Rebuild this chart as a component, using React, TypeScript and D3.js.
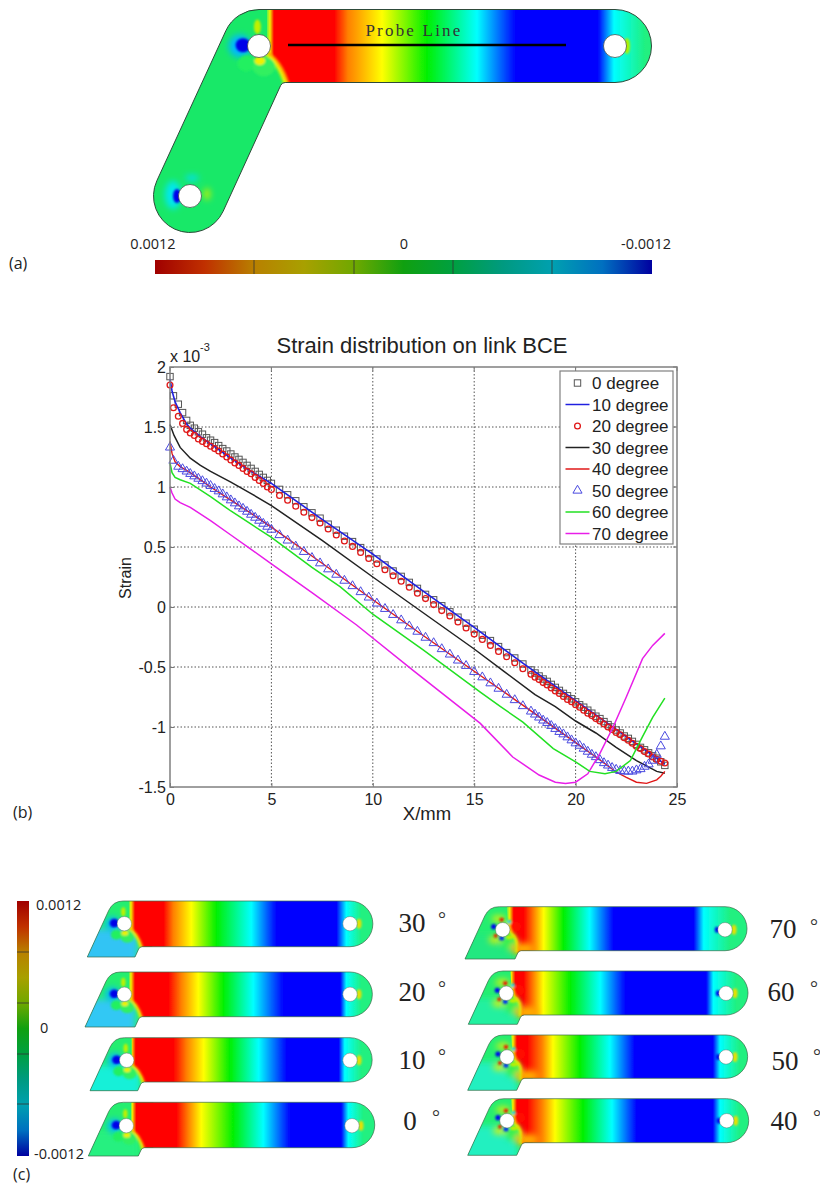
import React, { useRef, useEffect } from 'react';
import * as d3 from 'd3';

// strain is in units of 10^-3, x in mm
const markerX = [
  0, 0.17, 0.41, 0.62, 0.82, 1,
  1.2, 1.4, 1.6, 1.8, 2, 2.2, 2.4, 2.6, 2.8, 3, 3.2, 3.4, 3.6, 3.8, 4, 4.2, 4.4, 4.6, 4.8, 5,
  5.4, 5.8, 6.2, 6.6, 7, 7.4, 7.8, 8.2, 8.6, 9, 9.4, 9.8, 10.2, 10.6, 11, 11.4, 11.8, 12.2, 12.6, 13,
  13.4, 13.8, 14.2, 14.6, 15, 15.4, 15.8, 16.2, 16.6, 17, 17.4, 17.8,
  18, 18.2, 18.4, 18.6, 18.8, 19, 19.2, 19.4, 19.6, 19.8, 20, 20.2, 20.4, 20.6, 20.8, 21, 21.2, 21.4,
  21.6, 21.8, 22, 22.2, 22.4, 22.6, 22.8, 23, 23.2, 23.4, 23.6, 23.8, 24, 24.2, 24.4,
];
const degree0 = [
  1.92, 1.76, 1.69, 1.62, 1.555, 1.514,
  1.49, 1.46, 1.44, 1.41, 1.39, 1.37, 1.345, 1.32, 1.3, 1.275, 1.25, 1.23, 1.205, 1.18, 1.155, 1.13, 1.105, 1.08, 1.055, 1.03,
  0.98, 0.935, 0.885, 0.835, 0.785, 0.74, 0.69, 0.64, 0.59, 0.545, 0.495, 0.445, 0.4, 0.35, 0.3, 0.255, 0.205, 0.155, 0.105, 0.06,
  0.01, -0.04, -0.085, -0.135, -0.185, -0.235, -0.28, -0.33, -0.38, -0.425, -0.475, -0.525,
  -0.55, -0.575, -0.6, -0.62, -0.645, -0.67, -0.695, -0.72, -0.74, -0.765, -0.79, -0.815, -0.835, -0.86, -0.885, -0.91, -0.93, -0.955,
  -0.98, -1, -1.025, -1.05, -1.075, -1.095, -1.12, -1.145, -1.17, -1.19, -1.215, -1.24, -1.26, -1.29, -1.32,
];
const degree20 = [
  1.85, 1.66, 1.59, 1.53, 1.48, 1.45,
  1.43, 1.4, 1.38, 1.36, 1.34, 1.32, 1.3, 1.275, 1.25, 1.225, 1.2, 1.18, 1.155, 1.13, 1.11, 1.08, 1.055, 1.03, 1, 0.98,
  0.93, 0.89, 0.84, 0.79, 0.745, 0.7, 0.65, 0.6, 0.55, 0.505, 0.455, 0.405, 0.36, 0.31, 0.26, 0.215, 0.165, 0.115, 0.07, 0.02,
  -0.03, -0.075, -0.125, -0.175, -0.225, -0.27, -0.32, -0.37, -0.415, -0.465, -0.515, -0.56,
  -0.585, -0.605, -0.63, -0.65, -0.675, -0.7, -0.72, -0.745, -0.77, -0.79, -0.815, -0.835, -0.86, -0.885, -0.905, -0.93, -0.95, -0.975,
  -1, -1.02, -1.045, -1.065, -1.09, -1.11, -1.135, -1.16, -1.18, -1.205, -1.225, -1.25, -1.27, -1.285, -1.3,
];
const degree50 = [
  1.33, 1.22, 1.17, 1.15, 1.13, 1.11,
  1.09, 1.07, 1.05, 1.03, 1.01, 0.985, 0.965, 0.94, 0.915, 0.89, 0.865, 0.84, 0.82, 0.795, 0.77, 0.745, 0.72, 0.695, 0.67, 0.645,
  0.6, 0.555, 0.505, 0.46, 0.41, 0.365, 0.315, 0.27, 0.22, 0.175, 0.125, 0.08, 0.03, -0.015, -0.065, -0.11, -0.16, -0.205, -0.255, -0.3,
  -0.35, -0.395, -0.445, -0.49, -0.54, -0.585, -0.635, -0.68, -0.73, -0.775, -0.825, -0.87,
  -0.895, -0.92, -0.945, -0.965, -0.99, -1.015, -1.04, -1.06, -1.085, -1.11, -1.135, -1.155, -1.18, -1.205, -1.23, -1.25, -1.275, -1.3,
  -1.32, -1.34, -1.355, -1.365, -1.37, -1.37, -1.37, -1.36, -1.35, -1.33, -1.31, -1.28, -1.23, -1.16, -1.08,
];

const degree10X = [0, 0.1, 0.25, 0.5, 0.8, 1, 1.5, 2, 3, 4, 5, 7.5, 10, 12.5, 15, 17.5, 20, 22, 23, 24, 24.4];
const degree10 = [1.9, 1.8, 1.71, 1.62, 1.53, 1.49, 1.42, 1.36, 1.24, 1.13, 1.03, 0.73, 0.44, 0.13, -0.17, -0.48, -0.78, -1.02, -1.14, -1.26, -1.31];
const degree30X = [0, 0.2, 0.5, 1, 1.5, 2, 3, 4, 5, 7.5, 10, 12.5, 15, 16.5, 18, 19, 20, 21, 22, 23, 24, 24.4];
const degree30 = [1.52, 1.43, 1.33, 1.24, 1.18, 1.13, 1.04, 0.945, 0.845, 0.555, 0.25, -0.05, -0.35, -0.54, -0.73, -0.83, -0.95, -1.05, -1.17, -1.28, -1.37, -1.385];
const degree40X = [0, 0.1, 0.25, 0.5, 1, 2, 3, 4, 5, 7.5, 10, 12.5, 15, 17.5, 20, 21, 22, 22.5, 23, 23.5, 24, 24.2, 24.4];
const degree40 = [1.38, 1.28, 1.21, 1.17, 1.12, 1, 0.89, 0.78, 0.665, 0.365, 0.06, -0.24, -0.535, -0.83, -1.13, -1.25, -1.375, -1.42, -1.46, -1.47, -1.44, -1.41, -1.37];
const degree60X = [0, 0.1, 0.25, 0.5, 1, 2, 3, 4, 5, 7, 8.4, 10, 12.5, 15.3, 16.3, 17.4, 18.9, 20, 20.7, 21.45, 22, 22.7, 23.3, 23.8, 24.4];
const degree60 = [1.2, 1.12, 1.08, 1.06, 1.03, 0.92, 0.8, 0.69, 0.58, 0.33, 0.167, -0.06, -0.36, -0.71, -0.83, -0.96, -1.18, -1.29, -1.37, -1.39, -1.37, -1.28, -1.08, -0.92, -0.76];
const degree70X = [0, 0.1, 0.25, 0.5, 1, 2, 3, 4, 5, 7, 9.2, 12, 15.3, 16.9, 18.2, 19, 19.5, 20, 20.6, 21.2, 21.85, 22.5, 23.3, 23.8, 24.4];
const degree70 = [1, 0.95, 0.9, 0.87, 0.83, 0.72, 0.6, 0.48, 0.36, 0.12, -0.15, -0.53, -0.97, -1.25, -1.4, -1.46, -1.47, -1.46, -1.39, -1.22, -1, -0.75, -0.43, -0.32, -0.22];

const xTicks = [0, 5, 10, 15, 20, 25];
const yTicks = [2, 1.5, 1, 0.5, 0, -0.5, -1, -1.5];
const legendLabels = ['0 degree', '10 degree', '20 degree', '30 degree', '40 degree', '50 degree', '60 degree', '70 degree'];

// contour band edges, px right of the left hole, in the order of bandColors
const bandColors = ['#ff0000', '#ff0000', '#ff8000', '#ffff00', '#00f000', '#00ffff', '#0000ff', '#0000ff', '#00ffff', '#20f080'];
const bandsA = [15, 75, 89, 123, 168, 218, 257, 339, 355, 386];
const contourRows = [
  { label: '30', bands: [10.7, 39, 49, 67, 92, 127, 152, 212, 222, 237], hole: [124.3, 923.7], rightX: 350, top: 901, bottom: 946.7, end: 372.7, stub: [87.3, 135, 957], stubColor: '#30c4f4', text: [412, 923], deg: [442, 915], high: false },
  { label: '20', bands: [10.7, 44, 57, 74, 99, 129, 159, 216, 222, 237], hole: [124.3, 994.3], rightX: 350, top: 972, bottom: 1016.7, end: 372.7, stub: [85, 135, 1027], stubColor: '#30c8f4', text: [412, 992], deg: [442, 984], high: false },
  { label: '10', bands: [9, 47, 60, 77, 103, 132, 160, 212, 218, 235], hole: [126.7, 1060.3], rightX: 350, top: 1037.7, bottom: 1082, end: 372.7, stub: [90, 137.7, 1090.7], stubColor: '#18f0d8', text: [412, 1060], deg: [442, 1052], high: false },
  { label: '0', bands: [10, 50, 62, 75, 107, 137, 164, 215, 222, 237], hole: [126.3, 1125.7], rightX: 352, top: 1102.3, bottom: 1147.7, end: 374.7, stub: [88.3, 138.3, 1156], stubColor: '#28f080', text: [410, 1121], deg: [436, 1113], high: false },
  { label: '70', bands: [11, 21, 31, 41, 61, 87, 111, 191, 201, 227], hole: [502.7, 929.7], rightX: 725, top: 906.7, bottom: 950.7, end: 747.7, stub: [465, 515, 959], stubColor: '#20e880', text: [783, 929], deg: [814, 922], high: true },
  { label: '60', bands: [9, 17, 27, 37, 64, 94, 119, 200, 207, 230], hole: [506.3, 993.3], rightX: 726, top: 971, bottom: 1015, end: 748.3, stub: [468.3, 517.3, 1024.3], stubColor: '#20f0a0', text: [781, 992], deg: [814, 984], high: true },
  { label: '50', bands: [10, 20, 35, 46, 73, 103, 128, 206, 213, 233], hole: [507, 1057], rightX: 726, top: 1035, bottom: 1078.3, end: 748.3, stub: [467.7, 516.7, 1090.3], stubColor: '#20f0c0', text: [785, 1061], deg: [817, 1052], high: true },
  { label: '40', bands: [10, 20, 35, 48, 76, 105, 130, 206, 213, 233], hole: [507, 1120.7], rightX: 726.7, top: 1098.7, bottom: 1142.7, end: 749, stub: [467.7, 516.7, 1155.3], stubColor: '#20f0c0', text: [784, 1121], deg: [817, 1113], high: true },
];

// coloured lobes around the hole: dx, dy, rx, ry, colour
type Lobe = [number, number, number, number, string];
const lowHalo: Lobe[] = [
  [-12, 0, 7, 7, '#00b8ff'],
];
const lowLobes: Lobe[] = [
  [-10, -0.5, 4.6, 4.4, '#0000e8'],
  [-1, -12, 2.2, 4.5, '#c0f000'],
  [-8, 11, 5.5, 5, '#20f060'],
  [3, 13, 7, 6, '#30f060'],
  [0.5, 9.2, 3.4, 2.6, '#f0f000'],
];
const highHalo: Lobe[] = [
  [-4, -11, 7, 3, '#f0f000'],
  [-8, 10, 6, 3.5, '#e8f000'],
  [6, 12, 8, 8, '#30f050'],
  [20, 19, 12, 6, '#ffb000'],
];
const highLobes: Lobe[] = [
  [-9, -3, 2.6, 2.6, '#0000f0'],
  [-1, 8.5, 2.6, 2.2, '#0030f0'],
  [-1, -10, 2.2, 2, '#f01000'],
  [-7, 6, 2, 2, '#e82000'],
  [6.5, -8, 2.2, 2, '#10d0e0'],
  [13, -3, 5, 5, '#ff1000'],
  [7, 7.5, 4, 2, '#c0f000'],
];

const slope = 0.46; // run over rise of the slanted lower arm

const stubPath = (row: any) => {
  const [holeX] = row.hole;
  const [left, right, y] = row.stub;
  const radius = (row.bottom - row.top) / 2;
  const p = d3.path();
  p.moveTo(left, y);
  p.arcTo(left + (y - row.top) * slope, row.top, holeX + 10, row.top, 16);
  p.lineTo(row.rightX, row.top);
  p.arc(row.rightX, row.top + radius, radius, -Math.PI / 2, Math.PI / 2);
  p.arcTo(right + (y - row.bottom) * slope, row.bottom, right, y, 4);
  p.lineTo(right, y);
  p.closePath();
  return p.toString();
};

const fullLinkPath = () => {
  const r = 36.5;
  const theta = Math.atan2(0.418, 0.908);
  const p = d3.path();
  p.moveTo(259, 9.5);
  p.lineTo(615, 9.5);
  p.arc(615, 46, r, -Math.PI / 2, Math.PI / 2);
  p.arcTo(282, 82.5, 190 + r * Math.cos(theta), 196 + r * Math.sin(theta), 5);
  p.lineTo(190 + r * Math.cos(theta), 196 + r * Math.sin(theta));
  p.arc(190, 196, r, theta, theta + Math.PI);
  p.lineTo(259 - r * Math.cos(theta), 46 - r * Math.sin(theta));
  p.arc(259, 46, r, theta + Math.PI, Math.PI * 1.5);
  return p.toString();
};

// the edge between the lobes at the hole and the long gradient
const seamPath = (hx: number, hy: number, s: number, high: boolean) => {
  const p = d3.path();
  if (high) {
    p.moveTo(hx + 5 * s, hy - 9 * s);
    p.bezierCurveTo(hx + 8 * s, hy - 5 * s, hx + 7 * s, hy + 1 * s, hx + 9 * s, hy + 3 * s);
    p.bezierCurveTo(hx + 14 * s, hy + 6 * s, hx + 16 * s, hy + 12 * s, hx + 15 * s, hy + 22 * s);
  } else {
    p.moveTo(hx + 5.5 * s, hy + 5 * s);
    p.bezierCurveTo(hx + 10 * s, hy + 7 * s, hx + 15 * s, hy + 14 * s, hx + 18 * s, hy + 24 * s);
  }
  return p.toString();
};

const regionPath = (hx: number, hy: number, s: number, high: boolean, end: number) => {
  const startX = high ? hx + 3 * s : hx + 5 * s;
  const p = d3.path();
  p.moveTo(startX, hy - 40 * s);
  if (high) {
    p.lineTo(hx + 5 * s, hy - 9 * s);
    p.bezierCurveTo(hx + 8 * s, hy - 5 * s, hx + 7 * s, hy + 1 * s, hx + 9 * s, hy + 3 * s);
    p.bezierCurveTo(hx + 14 * s, hy + 6 * s, hx + 16 * s, hy + 12 * s, hx + 15 * s, hy + 22 * s);
    p.lineTo(hx + 15 * s, hy + 40 * s);
  } else {
    p.lineTo(hx + 5 * s, hy + 5 * s);
    p.bezierCurveTo(hx + 10 * s, hy + 7 * s, hx + 15 * s, hy + 14 * s, hx + 18 * s, hy + 24 * s);
    p.lineTo(hx + 18 * s, hy + 40 * s);
  }
  p.lineTo(end, hy + 40 * s);
  p.lineTo(end, hy - 40 * s);
  p.closePath();
  return p.toString();
};

const Gradient = ({ id, x0, bands, base }: { id: string; x0: number; bands: number[]; base: string }) => {
  const start = x0 + bands[0] - 8;
  const stop = x0 + bands[bands.length - 1];
  const offset = d3.scaleLinear().domain([start, stop]).range([0, 1]);
  return (
    <linearGradient id={id} gradientUnits="userSpaceOnUse" x1={start} x2={stop} y1={0} y2={0}>
      <stop offset={0} stopColor={base} />
      <stop offset={offset(start + 4)} stopColor="#f0f000" />
      {bands.map((b, i) => <stop key={i} offset={offset(x0 + b)} stopColor={bandColors[i]} />)}
    </linearGradient>
  );
};

const HoleLobes = ({ hx, hy, s, high }: { hx: number; hy: number; s: number; high: boolean }) => {
  const seam = seamPath(hx, hy, s, high);
  const halo = high ? highHalo : lowHalo;
  const lobes = high ? highLobes : lowLobes;
  const draw = (list: Lobe[]) => list.map((l, i) => (
    <ellipse key={i} cx={hx + l[0] * s} cy={hy + l[1] * s} rx={l[2] * s} ry={l[3] * s} fill={l[4]} />
  ));
  return (
    <g>
      <g filter="url(#softer)">{draw(halo)}</g>
      <g filter="url(#soft)">
        <path d={seam} fill="none" stroke="#ff9000" strokeWidth={2.4 * s} />
        <path d={seam} fill="none" stroke="#f8f000" strokeWidth={1.6 * s} transform={`translate(${-1.2 * s},${0.3 * s})`} />
        <path d={seam} fill="none" stroke="#90f020" strokeWidth={1.2 * s} transform={`translate(${-2.2 * s},${0.6 * s})`} />
        {draw(lobes)}
      </g>
    </g>
  );
};

const ContourRow = ({ row, index }: { row: any; index: number }) => {
  const [hx, hy] = row.hole;
  const d = stubPath(row);
  const clip = `clip-row-${index}`;
  return (
    <g>
      <clipPath id={clip}><path d={d} /></clipPath>
      <Gradient id={`band-row-${index}`} x0={hx} bands={row.bands} base="#28f070" />
      <g clipPath={`url(#${clip})`}>
        <rect x={row.stub[0] - 5} y={row.top} width={70} height={row.stub[2] - row.top} fill="#24ee70" />
        <g filter="url(#softer)">
          <rect x={row.stub[0] - 12} y={hy + 5} width={62} height={40} fill={row.stubColor} />
        </g>
        <g filter="url(#faint)">
          <path d={regionPath(hx, hy, 1, row.high, row.end + 5)} fill={`url(#band-row-${index})`} />
        </g>
        <HoleLobes hx={hx} hy={hy} s={1} high={row.high} />
        <g filter="url(#soft)">
          <ellipse cx={row.rightX + 9} cy={hy} rx={2.5} ry={5} fill="#e8e000" />
          {row.high && <ellipse cx={row.rightX - 8} cy={hy} rx={2.2} ry={3} fill="#0000f0" />}
        </g>
      </g>
      <path d={d} fill="none" stroke="#3a6a4a" strokeWidth={0.7} />
      <circle cx={hx} cy={hy} r={7.2} fill="#fff" stroke="#555" strokeWidth={0.4} />
      <circle cx={row.rightX} cy={hy} r={7.2} fill="#fff" stroke="#555" strokeWidth={0.4} />
      <text x={row.text[0]} y={row.text[1] + 9} textAnchor="middle" fontFamily="Liberation Serif" fontSize={27} fill="#222">{row.label}</text>
      <text x={row.deg[0]} y={row.deg[1] + 11} textAnchor="middle" fontFamily="Liberation Serif" fontSize={20} fill="#333">°</text>
    </g>
  );
};

const PanelA = () => {
  const d = fullLinkPath();
  const s = 1.6;
  return (
    <g>
      <clipPath id="clip-a"><path d={d} /></clipPath>
      <Gradient id="band-a" x0={259} bands={bandsA} base="#30f060" />
      <g clipPath="url(#clip-a)">
        <rect x={150} y={0} width={180} height={240} fill="#18e868" />
        <g filter="url(#faint)">
          <path d={regionPath(259, 46, s, false, 656)} fill="url(#band-a)" />
        </g>
        <HoleLobes hx={259} hy={46} s={s} high={false} />
        <g filter="url(#softer)">
          <ellipse cx={173} cy={195} rx={8} ry={14} fill="#00e8f0" />
          <ellipse cx={192} cy={178} rx={7} ry={3} fill="#00e0f0" />
          <ellipse cx={207} cy={194} rx={3} ry={6} fill="#c8f000" />
        </g>
        <g filter="url(#soft)">
          <ellipse cx={177} cy={196} rx={4} ry={7} fill="#0000e8" />
          <ellipse cx={627} cy={46} rx={3} ry={8} fill="#b0f000" />
        </g>
      </g>
      <path d={d} fill="none" stroke="#2e4a3a" strokeWidth={1} />
      <circle cx={259} cy={46} r={11.5} fill="#fff" stroke="#222" strokeWidth={0.6} />
      <circle cx={615} cy={46} r={11.5} fill="#fff" stroke="#222" strokeWidth={0.6} />
      <circle cx={190} cy={196} r={11.5} fill="#fff" stroke="#222" strokeWidth={0.6} />
      <line x1={288} x2={566} y1={45} y2={45} stroke="#000" strokeWidth={2.5} />
      <text x={414} y={36} textAnchor="middle" fontFamily="Liberation Serif" fontSize={17} letterSpacing={2.2} fill="#333">Probe Line</text>
    </g>
  );
};

const darkStops = ['#a00000', '#c03000', '#b88000', '#a8a000', '#70a800', '#10a010', '#00a040', '#009a80', '#00a0b0', '#0070c0', '#0000a0'];

const Chart = () => {
  const ref = useRef<SVGGElement>(null);

  useEffect(() => {
    const left = 170, right = 677, top = 367, bottom = 787;
    const x = d3.scaleLinear().domain([0, 25]).range([left, right]);
    const y = d3.scaleLinear().domain([-1.5, 2]).range([bottom, top]);
    const g = d3.select(ref.current);
    g.selectAll('*').remove();

    const grid = g.append('g').attr('stroke', '#555').attr('stroke-width', 1).attr('stroke-dasharray', '1.5,2');
    xTicks.slice(1, -1).forEach(t => {
      grid.append('line').attr('x1', x(t)).attr('x2', x(t)).attr('y1', top).attr('y2', bottom);
    });
    yTicks.slice(1, -1).forEach(t => {
      grid.append('line').attr('x1', left).attr('x2', right).attr('y1', y(t)).attr('y2', y(t));
    });

    const line = d3.line<[number, number]>().x(d => x(d[0])).y(d => y(d[1]));
    const lineSeries: [number[], number[], string, number][] = [
      [degree70X, degree70, '#e81ee8', 1.5],
      [degree60X, degree60, '#22e022', 1.5],
    ];

    // squares first, the blue line over them
    const marks = g.append('g').attr('fill', 'none');
    markerX.forEach((v, i) => {
      marks.append('rect').attr('x', x(v) - 3.2).attr('y', y(degree0[i]) - 3.2).attr('width', 6.4).attr('height', 6.4)
        .attr('stroke', '#555').attr('stroke-width', 1);
    });
    marks.append('path').attr('d', line(degree10X.map((v, i) => [v, degree10[i]]))).attr('stroke', '#2020e0').attr('stroke-width', 1.6);
    markerX.forEach((v, i) => {
      marks.append('circle').attr('cx', x(v)).attr('cy', y(degree20[i])).attr('r', 2.9)
        .attr('stroke', '#e01818').attr('stroke-width', 1.3);
    });
    marks.append('path').attr('d', line(degree30X.map((v, i) => [v, degree30[i]]))).attr('stroke', '#222').attr('stroke-width', 1.5);
    marks.append('path').attr('d', line(degree40X.map((v, i) => [v, degree40[i]]))).attr('stroke', '#e01818').attr('stroke-width', 1.4);
    const triangle = d3.symbol().type(d3.symbolTriangle).size(36);
    markerX.forEach((v, i) => {
      marks.append('path').attr('d', triangle()).attr('transform', `translate(${x(v)},${y(degree50[i])})`)
        .attr('stroke', '#4a4ae0').attr('stroke-width', 1);
    });
    lineSeries.forEach(([xs, ys, color, width]) => {
      marks.append('path').attr('d', line(xs.map((v, i) => [v, ys[i]]))).attr('stroke', color).attr('stroke-width', width);
    });

    const axes = g.append('g').attr('font-family', 'Liberation Sans');
    const bottomAxis = axes.append('g').attr('transform', `translate(0,${bottom})`)
      .call(d3.axisBottom(x).tickValues(xTicks).tickSize(-4).tickPadding(6.6).tickFormat(d => String(d)));
    const leftAxis = axes.append('g').attr('transform', `translate(${left},0)`)
      .call(d3.axisLeft(y).tickValues(yTicks).tickSize(-4).tickPadding(4).tickFormat(d => String(d)));
    [bottomAxis, leftAxis].forEach(a => {
      a.attr('font-size', 16).attr('font-family', 'Liberation Sans');
      a.select('.domain').remove();
      a.selectAll('line').attr('stroke', '#777');
      a.selectAll('text').attr('fill', '#222');
    });
    const topTicks = axes.append('g').attr('stroke', '#777');
    xTicks.forEach(t => topTicks.append('line').attr('x1', x(t)).attr('x2', x(t)).attr('y1', top).attr('y2', top + 4));
    yTicks.forEach(t => topTicks.append('line').attr('x1', right - 4).attr('x2', right).attr('y1', y(t)).attr('y2', y(t)));
    axes.append('rect').attr('x', left).attr('y', top).attr('width', right - left).attr('height', bottom - top)
      .attr('fill', 'none').attr('stroke', '#808080').attr('stroke-width', 1.5);

    // legend
    const lx = 560, ly = 371, rowH = 21.5;
    const legend = g.append('g').attr('font-family', 'Liberation Sans').attr('font-size', 17);
    legend.append('rect').attr('x', lx).attr('y', ly).attr('width', 113).attr('height', 173)
      .attr('fill', '#fff').attr('stroke', '#808080').attr('stroke-width', 1.2);
    const legendColor = ['#555', '#2020e0', '#e01818', '#222', '#e01818', '#4a4ae0', '#22e022', '#e81ee8'];
    legendLabels.forEach((label, i) => {
      const cy = 383 + i * rowH;
      legend.append('text').attr('x', 592).attr('y', cy + 6).attr('fill', '#222').text(label);
      if (i === 0) {
        legend.append('rect').attr('x', 574.3).attr('y', cy - 3.2).attr('width', 6.4).attr('height', 6.4)
          .attr('fill', 'none').attr('stroke', legendColor[i]).attr('stroke-width', 1);
      } else if (i === 2) {
        legend.append('circle').attr('cx', 577.5).attr('cy', cy).attr('r', 2.9)
          .attr('fill', 'none').attr('stroke', legendColor[i]).attr('stroke-width', 1.3);
      } else if (i === 5) {
        legend.append('path').attr('d', triangle()).attr('transform', `translate(577.5,${cy})`)
          .attr('fill', 'none').attr('stroke', legendColor[i]).attr('stroke-width', 1);
      } else {
        legend.append('line').attr('x1', 565.5).attr('x2', 589.5).attr('y1', cy).attr('y2', cy)
          .attr('stroke', legendColor[i]).attr('stroke-width', 1.5);
      }
    });

    const labels = g.append('g').attr('font-family', 'Liberation Sans').attr('fill', '#222');
    labels.append('text').attr('x', 422).attr('y', 353).attr('text-anchor', 'middle').attr('font-size', 22).text('Strain distribution on link BCE');
    labels.append('text').attr('x', 427).attr('y', 820).attr('text-anchor', 'middle').attr('font-size', 18.5).text('X/mm');
    labels.append('text').attr('transform', 'translate(131,578) rotate(-90)').attr('text-anchor', 'middle').attr('font-size', 16).text('Strain');
    labels.append('text').attr('x', 170).attr('y', 362).attr('font-size', 16).text('x 10');
    labels.append('text').attr('x', 200).attr('y', 351).attr('font-size', 11).text('-3');
  }, []);

  return <g ref={ref} />;
};

export default function App() {
  const hSegments = [254, 354, 453, 552];
  const vSegments = [952, 1003, 1054, 1104];
  const labelFont = 'Open Sans';
  return (
    <svg width={820} height={1184} style={{ position: 'absolute', left: 0, top: 0, background: '#fff' }}>
      <defs>
        <filter id="faint" x="-5%" y="-5%" width="110%" height="110%">
          <feGaussianBlur stdDeviation={0.6} />
        </filter>
        <filter id="soft" x="-50%" y="-50%" width="200%" height="200%">
          <feGaussianBlur stdDeviation={1.1} />
        </filter>
        <filter id="softer" x="-50%" y="-50%" width="200%" height="200%">
          <feGaussianBlur stdDeviation={3} />
        </filter>
        <linearGradient id="bar-h" x1={0} x2={1} y1={0} y2={0}>
          {darkStops.map((c, i) => <stop key={i} offset={i / (darkStops.length - 1)} stopColor={c} />)}
        </linearGradient>
        <linearGradient id="bar-v" x1={0} x2={0} y1={0} y2={1}>
          {darkStops.map((c, i) => <stop key={i} offset={i / (darkStops.length - 1)} stopColor={c} />)}
        </linearGradient>
      </defs>

      <PanelA />
      <rect x={155} y={260} width={497} height={14} fill="url(#bar-h)" />
      {hSegments.map(v => <line key={v} x1={v} x2={v} y1={260} y2={274} stroke="#333" strokeWidth={0.8} />)}
      <g fontFamily={labelFont} fontSize={14.5} fill="#222">
        <text x={153} y={249} textAnchor="middle">0.0012</text>
        <text x={404} y={249} textAnchor="middle">0</text>
        <text x={646} y={249} textAnchor="middle">-0.0012</text>
        <text x={9} y={269} fontSize={16}>(a)</text>
        <text x={13} y={818} fontSize={16}>(b)</text>
        <text x={13} y={1180} fontSize={16}>(c)</text>
      </g>

      <Chart />

      <rect x={17} y={901} width={12} height={255} fill="url(#bar-v)" />
      {vSegments.map(v => <line key={v} x1={17} x2={29} y1={v} y2={v} stroke="#333" strokeWidth={0.8} />)}
      <g fontFamily={labelFont} fontSize={14.5} fill="#222">
        <text x={36} y={910}>0.0012</text>
        <text x={40} y={1033}>0</text>
        <text x={34} y={1159}>-0.0012</text>
      </g>
      {contourRows.map((row, i) => <ContourRow key={row.label} row={row} index={i} />)}
    </svg>
  );
}
